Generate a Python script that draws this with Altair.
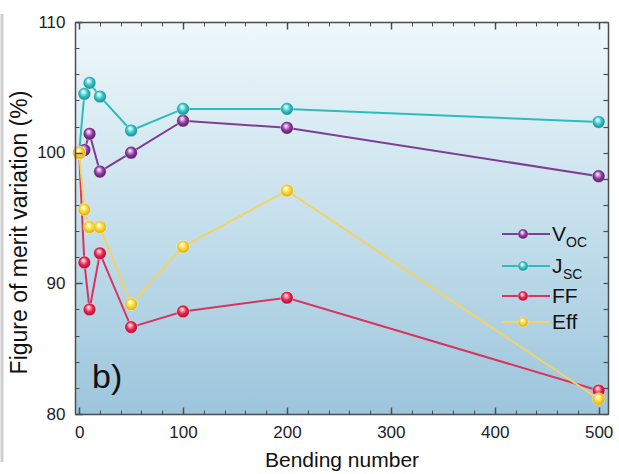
import altair as alt
import pandas as pd

# ---- data ----
bending = [0, 5, 10, 20, 50, 100, 200, 500]
voc = [100.0, 100.2, 101.45, 98.55, 100.0, 102.45, 101.9, 98.2]
jsc = [100.0, 104.5, 105.35, 104.3, 101.7, 103.35, 103.35, 102.35]
ff = [100.0, 91.6, 88.0, 92.3, 86.65, 87.85, 88.9, 81.8]
eff = [100.0, 95.65, 94.3, 94.3, 88.4, 92.8, 97.1, 81.15]

series_names = ["Voc", "Jsc", "FF", "Eff"]
legend_main = ["V", "J", "FF", "Eff"]
legend_sub = ["OC", "SC", "", ""]

x_major = [0, 100, 200, 300, 400, 500]
x_minor = [0, 20, 40, 60, 80, 100, 120, 140, 160, 180, 200, 220, 240, 260, 280,
           300, 320, 340, 360, 380, 400, 420, 440, 460, 480, 500]
y_major = [80, 90, 100, 110]
y_minor = [80, 82, 84, 86, 88, 90, 92, 94, 96, 98, 100, 102, 104, 106, 108, 110]

values = {"Voc": voc, "Jsc": jsc, "FF": ff, "Eff": eff}

styles = {
    "Voc": dict(line="#7f3d94", base="#8c3a9e", dark="#4f1260", light="#e6c2f0"),
    "Jsc": dict(line="#2cbcbc", base="#2fc3c6", dark="#127f86", light="#c4f6f6"),
    "FF": dict(line="#d83460", base="#e8224e", dark="#9e0d2c", light="#ffb8c6"),
    "Eff": dict(line="#f3d266", base="#f8d52e", dark="#d6a300", light="#fff7bf"),
}

AX = "#4d4d4d"
W, H = 533, 392
xscale = alt.Scale(domain=[-4, 509], nice=False, zero=False)
yscale = alt.Scale(domain=[80, 110], nice=False, zero=False)


def neg(n):
    return alt.ExprRef(expr=str(-n))


def ball(st):
    return alt.RadialGradient(
        gradient="radial",
        stops=[
            alt.GradientStop(offset=0.0, color="#ffffff"),
            alt.GradientStop(offset=0.18, color=st["light"]),
            alt.GradientStop(offset=0.55, color=st["base"]),
            alt.GradientStop(offset=1.0, color=st["dark"]),
        ],
        x1=0.4, y1=0.3, r1=0.0, x2=0.5, y2=0.5, r2=0.55,
    )


axes_x = {
    "Voc": alt.Axis(orient="bottom", values=x_major, tickSize=neg(7), labelPadding=17,
                    title="Bending number", titleFontSize=21, titleFontWeight="normal",
                    titlePadding=9, labelFontSize=17, labelColor="#222", titleColor="#111",
                    domain=True, domainColor=AX, domainWidth=1.5, tickColor=AX, tickWidth=1.5,
                    grid=False, format="d", labelFlush=False, zindex=2),
    "Jsc": alt.Axis(orient="bottom", values=x_minor, tickSize=neg(4), labels=False, title=None,
                    domain=False, tickColor=AX, tickWidth=1, grid=False, zindex=2),
    "FF": alt.Axis(orient="top", values=x_major, tickSize=neg(7), labels=False, title=None,
                   domain=True, domainColor=AX, domainWidth=1.5, tickColor=AX, tickWidth=1.5,
                   grid=False, zindex=2),
    "Eff": alt.Axis(orient="top", values=x_minor, tickSize=neg(4), labels=False, title=None,
                    domain=False, tickColor=AX, tickWidth=1, grid=False, zindex=2),
}
axes_y = {
    "Voc": alt.Axis(orient="left", values=y_major, tickSize=neg(7), labelPadding=17,
                    title="Figure of merit variation (%)", titleFontSize=23,
                    titleFontWeight="normal", titlePadding=5, labelFontSize=17,
                    labelColor="#222", titleColor="#111", titleY=210,
                    domain=True, domainColor=AX, domainWidth=1.5, tickColor=AX, tickWidth=1.5,
                    grid=False, labelFlush=False, zindex=2),
    "Jsc": alt.Axis(orient="left", values=y_minor, tickSize=neg(4), labels=False, title=None,
                    domain=False, tickColor=AX, tickWidth=1, grid=False, zindex=2),
    "FF": alt.Axis(orient="right", values=y_minor, tickSize=neg(5), labels=False, title=None,
                   domain=True, domainColor=AX, domainWidth=1.5, tickColor=AX, tickWidth=1.2,
                   grid=False, zindex=2),
    "Eff": None,
}

one = pd.DataFrame({"k": [0]})

bg = alt.Chart(one).mark_rect(
    fill=alt.LinearGradient(
        gradient="linear",
        stops=[alt.GradientStop(offset=0, color="#eff8fb"),
               alt.GradientStop(offset=0.5, color="#c6e0ec"),
               alt.GradientStop(offset=1, color="#9cc5dc")],
        x1=0, y1=0, x2=0, y2=1),
).encode(x=alt.value(0), x2=alt.value("width"), y=alt.value(0), y2=alt.value("height"))

frame = alt.Chart(one).mark_rule(color="#cfcfcf", strokeWidth=3).encode(
    x=alt.value(-73), y=alt.value(-8), y2=alt.value(440))

layers = [bg, frame]

for name in series_names:
    df = pd.DataFrame({"x": bending, "y": values[name]})
    layers.append(
        alt.Chart(df).mark_line(color=styles[name]["line"], strokeWidth=2).encode(
            x=alt.X("x:Q", scale=xscale, axis=axes_x[name]),
            y=alt.Y("y:Q", scale=yscale, axis=axes_y[name]),
        )
    )

for name in series_names:
    df = pd.DataFrame({"x": bending, "y": values[name]})
    layers.append(
        alt.Chart(df).mark_point(shape="circle", filled=True, size=160, opacity=1,
                                 fill=ball(styles[name]), stroke="#ffffff",
                                 strokeWidth=0.8, strokeOpacity=0.5).encode(
            x=alt.X("x:Q", scale=xscale, axis=None),
            y=alt.Y("y:Q", scale=yscale, axis=None),
        )
    )

# panel label
layers.append(
    alt.Chart(one).mark_text(text="b)", fontSize=34, align="left", baseline="alphabetic",
                             color="#111").encode(x=alt.value(17), y=alt.value(366))
)

# manual legend (with subscripts)
legend_rows = [212, 244, 274, 300]
sub_dx = [14, 11, 0, 0]
for i, name in enumerate(series_names):
    ry = legend_rows[i]
    st = styles[name]
    layers.append(alt.Chart(one).mark_rule(color=st["line"], strokeWidth=2).encode(
        x=alt.value(427), x2=alt.value(475), y=alt.value(ry)))
    layers.append(alt.Chart(one).mark_point(shape="circle", filled=True, size=100, opacity=1,
                                            fill=ball(st), stroke="#ffffff", strokeWidth=0.6,
                                            strokeOpacity=0.5).encode(
        x=alt.value(448), y=alt.value(ry)))
    layers.append(alt.Chart(one).mark_text(text=legend_main[i], fontSize=21, align="left",
                                           baseline="alphabetic", color="#111").encode(
        x=alt.value(477), y=alt.value(ry + 7)))
    if legend_sub[i]:
        layers.append(alt.Chart(one).mark_text(text=legend_sub[i], fontSize=14, align="left",
                                               baseline="alphabetic", color="#111").encode(
            x=alt.value(477 + sub_dx[i]), y=alt.value(ry + 13)))

chart = alt.layer(*layers).resolve_axis(x="independent", y="independent").properties(
    width=W, height=H,
    autosize=alt.AutoSizeParams(type="none"),
    padding={"left": 75, "top": 22, "right": 11, "bottom": 60},
    background="#ffffff",
).configure(font="Liberation Sans").configure_view(stroke=None)

chart.save("out.html", embed_options={"renderer": "svg", "actions": False})
